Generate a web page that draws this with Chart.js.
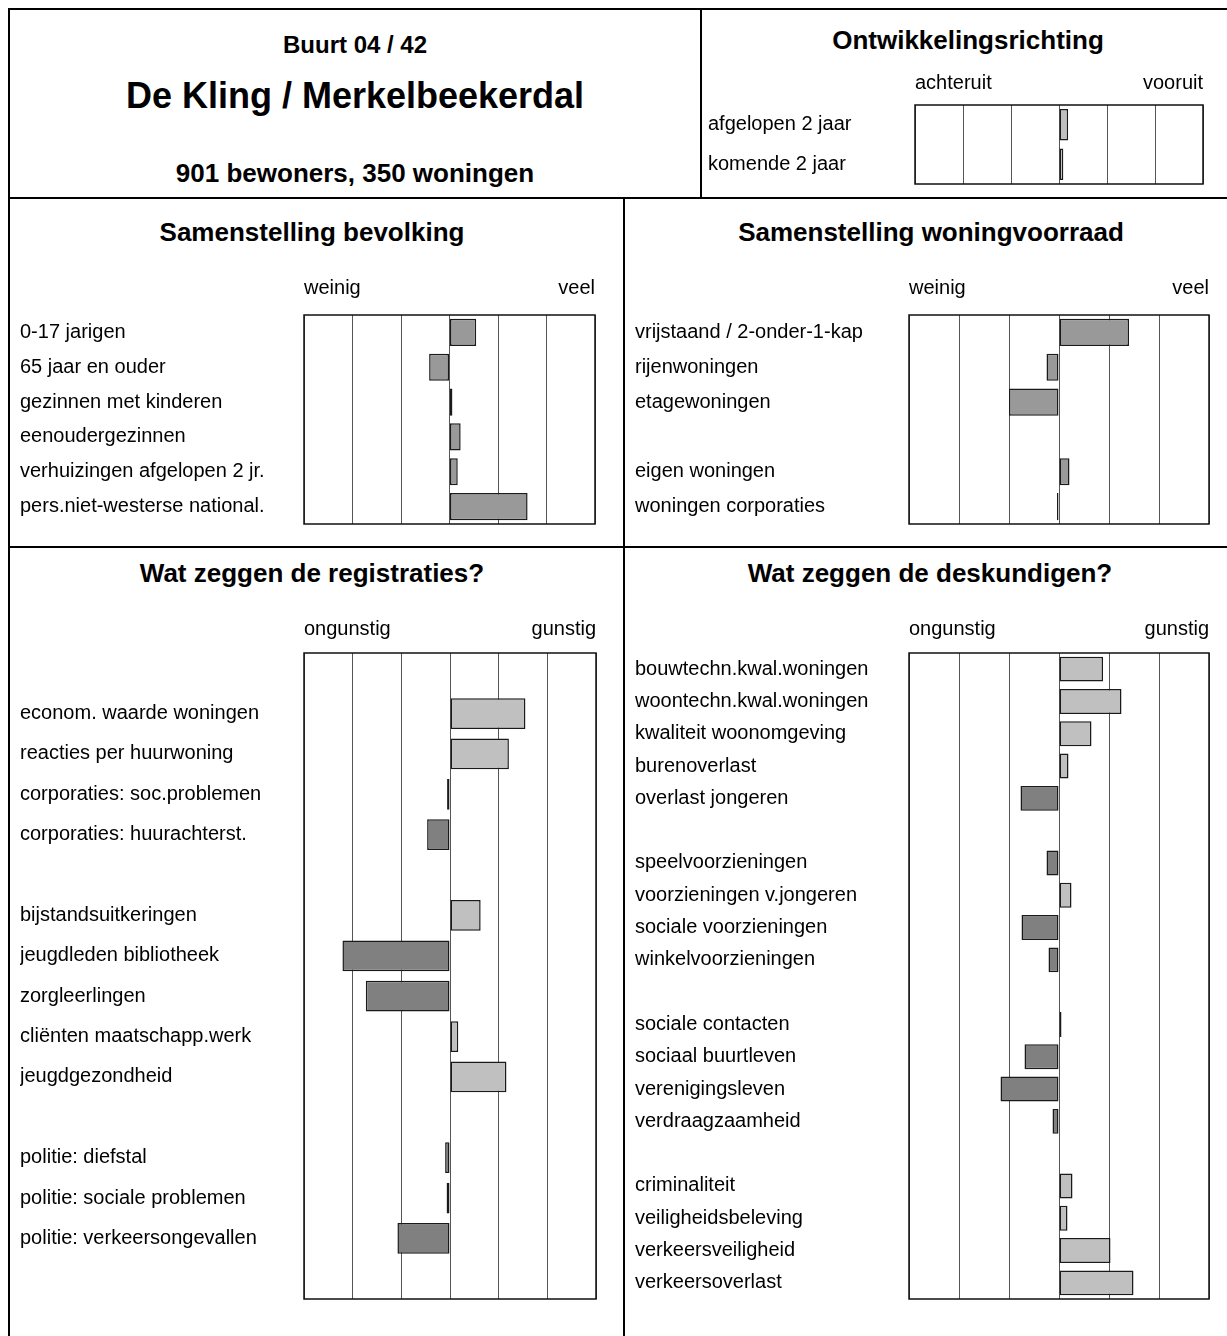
<!DOCTYPE html>
<html>
<head>
<meta charset="utf-8">
<script src="https://cdn.jsdelivr.net/npm/chart.js@4.4.1/dist/chart.umd.min.js"></script>
<style>
  body { margin: 0; background: #fff; font-family: 'Liberation Sans', Arial, sans-serif; }
  #page { position: relative; width: 1227px; height: 1336px; overflow: hidden; }
  .line { position: absolute; background: #000; }
  .t { position: absolute; font-weight: bold; color: #000; white-space: nowrap; transform: translate(-50%, -50%); }
  canvas { position: absolute; }
</style>
</head>
<body>
<div id="page">
  <div class="line" style="left:8px;top:8px;width:1219px;height:2px"></div>
  <div class="line" style="left:8px;top:8px;width:2px;height:1328px"></div>
  <div class="line" style="left:700px;top:8px;width:2px;height:191px"></div>
  <div class="line" style="left:8px;top:197px;width:1219px;height:2px"></div>
  <div class="line" style="left:623px;top:197px;width:2px;height:1139px"></div>
  <div class="line" style="left:8px;top:546px;width:1219px;height:2px"></div>

  <div class="t" style="left:355px;top:45px;font-size:24px">Buurt 04 / 42</div>
  <div class="t" style="left:355px;top:96px;font-size:36px">De Kling / Merkelbeekerdal</div>
  <div class="t" style="left:355px;top:173px;font-size:26px">901 bewoners, 350 woningen</div>
  <div class="t" style="left:968px;top:40px;font-size:26px">Ontwikkelingsrichting</div>
  <div class="t" style="left:312px;top:232px;font-size:26px">Samenstelling bevolking</div>
  <div class="t" style="left:931px;top:232px;font-size:26px">Samenstelling woningvoorraad</div>
  <div class="t" style="left:312px;top:573px;font-size:26px">Wat zeggen de registraties?</div>
  <div class="t" style="left:930px;top:573px;font-size:26px">Wat zeggen de deskundigen?</div>

  <canvas id="cDev"  width="497" height="121" style="left:708px;top:65px"></canvas>
  <canvas id="cBev"  width="577" height="251" style="left:20px;top:275px"></canvas>
  <canvas id="cWon"  width="576" height="251" style="left:635px;top:275px"></canvas>
  <canvas id="cReg"  width="578" height="688" style="left:20px;top:613px"></canvas>
  <canvas id="cDesk" width="576" height="688" style="left:635px;top:613px"></canvas>
</div>

<script>
// ── Data ──────────────────────────────────────────────────────────────────────
const devLabels  = ['afgelopen 2 jaar', 'komende 2 jaar'];
const devValues  = [0.19, 0.09];

const bevLabels  = ['0-17 jarigen', '65 jaar en ouder', 'gezinnen met kinderen', 'eenoudergezinnen',
                    'verhuizingen afgelopen 2 jr.', 'pers.niet-westerse national.'];
const bevValues  = [0.55, -0.42, 0.06, 0.23, 0.17, 1.61];

const wonLabels  = ['vrijstaand / 2-onder-1-kap', 'rijenwoningen', 'etagewoningen', '',
                    'eigen woningen', 'woningen corporaties'];
const wonValues  = [1.40, -0.25, -1.00, null, 0.21, -0.04];

const regLabels  = ['', 'econom. waarde woningen', 'reacties per huurwoning', 'corporaties: soc.problemen',
                    'corporaties: huurachterst.', '', 'bijstandsuitkeringen', 'jeugdleden bibliotheek',
                    'zorgleerlingen', 'cliënten maatschapp.werk', 'jeugdgezondheid', '',
                    'politie: diefstal', 'politie: sociale problemen', 'politie: verkeersongevallen', ''];
const regValues  = [null, 1.55, 1.21, -0.06, -0.47, null, 0.63, -2.21, -1.73, 0.17, 1.16, null,
                    -0.10, -0.07, -1.08, null];

const deskLabels = ['bouwtechn.kwal.woningen', 'woontechn.kwal.woningen', 'kwaliteit woonomgeving',
                    'burenoverlast', 'overlast jongeren', '', 'speelvoorzieningen', 'voorzieningen v.jongeren',
                    'sociale voorzieningen', 'winkelvoorzieningen', '', 'sociale contacten',
                    'sociaal buurtleven', 'verenigingsleven', 'verdraagzaamheid', '', 'criminaliteit',
                    'veiligheidsbeleving', 'verkeersveiligheid', 'verkeersoverlast'];
const deskValues = [0.88, 1.25, 0.65, 0.19, -0.77, null, -0.25, 0.25, -0.75, -0.21, null,
                    0.05, -0.69, -1.17, -0.13, null, 0.27, 0.17, 1.03, 1.49];

const endsDev  = ['achteruit', 'vooruit'];
const endsMix  = ['weinig', 'veel'];
const endsGood = ['ongunstig', 'gunstig'];

// ── Chart helpers ─────────────────────────────────────────────────────────────
const FONT = "'Liberation Sans', Arial, sans-serif";
const LIGHT = '#c0c0c0', MID = '#999999', DARK = '#808080';

const frame = {
  id: 'frame',
  afterDatasetsDraw(chart) {
    const a = chart.chartArea, g = chart.ctx;
    g.save();
    g.strokeStyle = '#111';
    g.lineWidth = 1.5;
    g.strokeRect(a.left, a.top, a.right - a.left, a.bottom - a.top);
    g.restore();
  }
};

function makeChart(id, labels, values, ends, o) {
  return new Chart(document.getElementById(id), {
    type: 'bar',
    data: {
      labels,
      datasets: [{
        data: values,
        backgroundColor: o.fill,
        borderColor: '#1a1a1a',
        borderWidth: 1.5,
        borderSkipped: false,
        barPercentage: o.bar,
        categoryPercentage: 1
      }]
    },
    options: {
      indexAxis: 'y',
      responsive: false,
      animation: false,
      layout: { padding: { left: 0, right: 2, top: 0, bottom: 2 } },
      plugins: { legend: { display: false }, tooltip: { enabled: false } },
      scales: {
        x: {
          position: 'top', min: -3, max: 3,
          ticks: {
            stepSize: 1, autoSkip: false, align: 'inner', maxRotation: 0,
            padding: o.gap, color: '#000', font: { size: 20, family: FONT },
            callback: (v, i, t) => i === 0 ? ends[0] : i === t.length - 1 ? ends[1] : ''
          },
          grid: { color: '#555', lineWidth: 1, drawTicks: false },
          border: { display: false },
          afterFit: s => { s.height = 40; s.paddingLeft = 0; s.paddingRight = 0; }
        },
        y: {
          ticks: { crossAlign: 'far', color: '#000', font: { size: 20, family: FONT }, padding: 0, autoSkip: false },
          grid: { display: false },
          border: { display: false },
          afterFit: s => { s.width = o.axisW; s.paddingTop = 0; s.paddingBottom = 0; }
        }
      }
    },
    plugins: [frame]
  });
}

const bySign = ctx => (ctx.raw >= 0 ? LIGHT : DARK);

makeChart('cDev',  devLabels,  devValues,  endsDev,  { fill: LIGHT,  bar: 0.80, gap: 10, axisW: 207 });
makeChart('cBev',  bevLabels,  bevValues,  endsMix,  { fill: MID,    bar: 0.78, gap: 15, axisW: 284 });
makeChart('cWon',  wonLabels,  wonValues,  endsMix,  { fill: MID,    bar: 0.78, gap: 15, axisW: 274 });
makeChart('cReg',  regLabels,  regValues,  endsGood, { fill: bySign, bar: 0.76, gap: 12, axisW: 284 });
makeChart('cDesk', deskLabels, deskValues, endsGood, { fill: bySign, bar: 0.77, gap: 12, axisW: 274 });
</script>
</body>
</html>
